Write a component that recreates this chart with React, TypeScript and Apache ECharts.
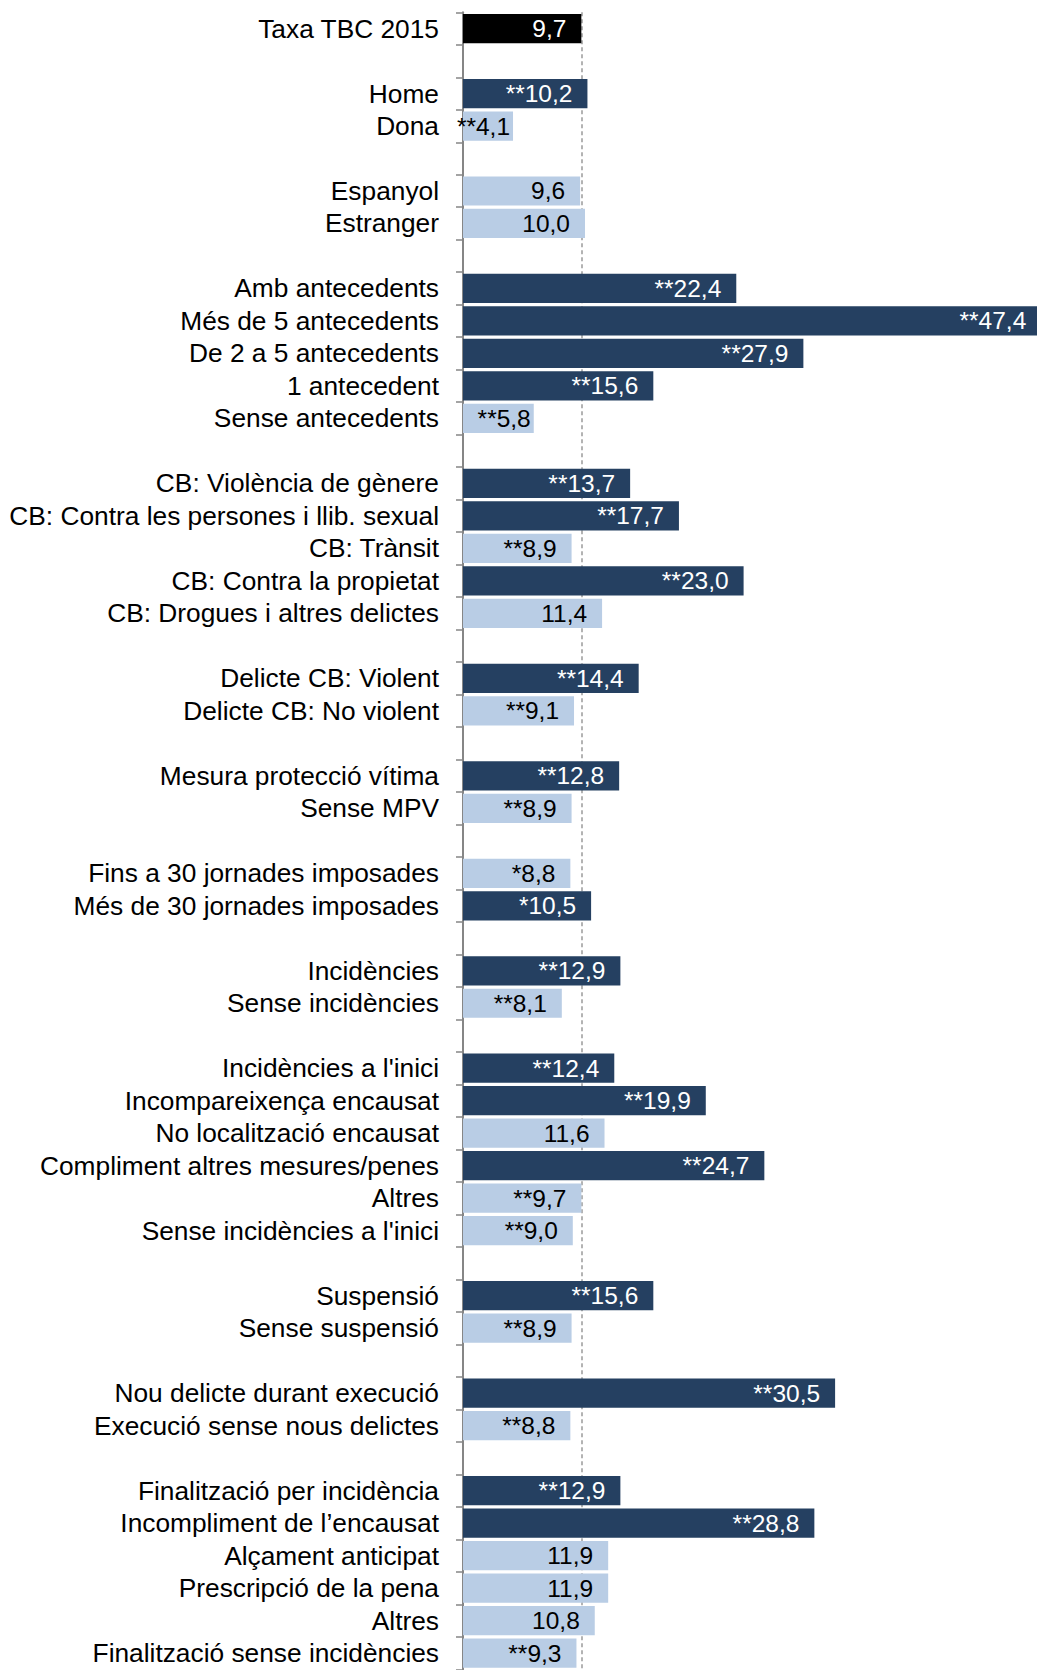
import React, { useEffect, useRef } from "react";
import * as echarts from "echarts";

const categories: string[] = [
  "Taxa TBC 2015", "",
  "Home", "Dona", "",
  "Espanyol", "Estranger", "",
  "Amb antecedents", "Més de 5 antecedents", "De 2 a 5 antecedents", "1 antecedent", "Sense antecedents", "",
  "CB: Violència de gènere", "CB: Contra les persones i llib. sexual", "CB: Trànsit", "CB: Contra la propietat", "CB: Drogues i altres delictes", "",
  "Delicte CB: Violent", "Delicte CB: No violent", "",
  "Mesura protecció vítima", "Sense MPV", "",
  "Fins a 30 jornades imposades", "Més de 30 jornades imposades", "",
  "Incidències", "Sense incidències", "",
  "Incidències a l'inici", "Incompareixença encausat", "No localització encausat", "Compliment altres mesures/penes", "Altres", "Sense incidències a l'inici", "",
  "Suspensió", "Sense suspensió", "",
  "Nou delicte durant execució", "Execució sense nous delictes", "",
  "Finalització per incidència", "Incompliment de l’encausat", "Alçament anticipat", "Prescripció de la pena", "Altres", "Finalització sense incidències",
];

const values: (number | null)[] = [
  9.7, null,
  10.2, 4.1, null,
  9.6, 10.0, null,
  22.4, 47.4, 27.9, 15.6, 5.8, null,
  13.7, 17.7, 8.9, 23.0, 11.4, null,
  14.4, 9.1, null,
  12.8, 8.9, null,
  8.8, 10.5, null,
  12.9, 8.1, null,
  12.4, 19.9, 11.6, 24.7, 9.7, 9.0, null,
  15.6, 8.9, null,
  30.5, 8.8, null,
  12.9, 28.8, 11.9, 11.9, 10.8, 9.3,
];

const significance: string[] = [
  "", "",
  "**", "**", "",
  "", "", "",
  "**", "**", "**", "**", "**", "",
  "**", "**", "**", "**", "", "",
  "**", "**", "",
  "**", "**", "",
  "*", "*", "",
  "**", "**", "",
  "**", "**", "", "**", "**", "**", "",
  "**", "**", "",
  "**", "**", "",
  "**", "**", "", "", "", "**",
];

// T = total, D = dark, L = light
const tones: string[] = [
  "T", "",
  "D", "L", "",
  "L", "L", "",
  "D", "D", "D", "D", "L", "",
  "D", "D", "L", "D", "L", "",
  "D", "L", "",
  "D", "L", "",
  "L", "D", "",
  "D", "L", "",
  "D", "D", "L", "D", "L", "L", "",
  "D", "L", "",
  "D", "L", "",
  "D", "D", "L", "L", "L", "L",
];

const referenceRate = 9.7;

const toneColor: Record<string, string> = { T: "#000000", D: "#254061", L: "#B9CDE5" };
const toneText: Record<string, string> = { T: "#ffffff", D: "#ffffff", L: "#000000" };

const FONT = "'Liberation Sans', Arial, sans-serif";

export default function App() {
  const ref = useRef<HTMLDivElement>(null);

  useEffect(() => {
    if (!ref.current) return;
    const chart = echarts.init(ref.current, null, { renderer: "svg" });

    const data = values.map((v, i) => {
      if (v == null) return { value: null };
      const tone = tones[i];
      const small = v < 6;
      return {
        value: v,
        itemStyle: { color: toneColor[tone] },
        label: {
          show: true,
          color: toneText[tone],
          distance: small ? 3 : 15,
          formatter: significance[i] + v.toFixed(1).replace(".", ","),
        },
      };
    });

    chart.setOption({
      animation: false,
      grid: {
        left: 463,
        width: 610,
        top: 12.3,
        bottom: 0.7,
        containLabel: false,
        outerBoundsMode: "none",
      },
      xAxis: {
        type: "value",
        min: 0,
        max: 50,
        show: false,
        splitLine: { show: false },
      },
      yAxis: {
        type: "category",
        inverse: true,
        data: categories,
        axisLine: { show: true, lineStyle: { color: "#868686", width: 2 } },
        axisTick: { show: true, interval: 0, length: 7, lineStyle: { color: "#868686", width: 1.5 } },
        axisLabel: {
          interval: 0,
          margin: 24,
          color: "#000",
          fontSize: 26.3,
          fontFamily: FONT,
        },
        splitLine: { show: false },
      },
      series: [
        {
          type: "bar",
          data,
          barCategoryGap: "10%",
          z: 2,
          clip: false,
          label: {
            show: true,
            position: "insideRight",
            fontSize: 24.5,
            fontFamily: FONT,
          },
          markLine: {
            silent: true,
            symbol: "none",
            z: 1,
            label: { show: false },
            lineStyle: { type: [4, 3], color: "#9a9a9a", width: 1.5 },
            data: [{ xAxis: referenceRate }],
          },
        },
      ],
    });

    return () => chart.dispose();
  }, []);

  return (
    <div
      ref={ref}
      style={{ position: "absolute", left: 0, top: 0, width: 1037, height: 1670 }}
    />
  );
}
